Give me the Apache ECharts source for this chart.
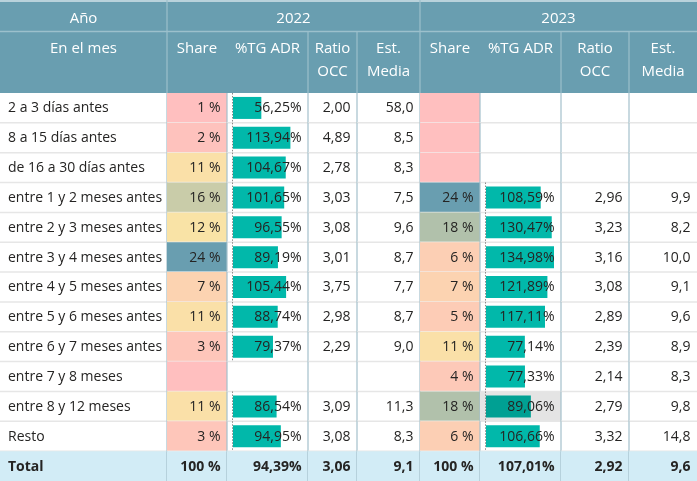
<!DOCTYPE html>
<html><head><meta charset="utf-8">
<script src="https://cdn.jsdelivr.net/npm/echarts@6/dist/echarts.min.js"></script>
<style>html,body{margin:0;padding:0;background:#fff;}#c{width:697px;height:481px;}</style>
</head><body><div id="c"></div>
<script>
// ---------- DATA ----------
const rowHeaderTop = 'Año';
const rowHeaderBottom = 'En el mes';
const years = ['2022', '2023'];
const measureHeaders = ['Share', '%TG ADR', 'Ratio\nOCC', 'Est.\nMedia'];
const categories = ['2 a 3 días antes', '8 a 15 días antes', 'de 16 a 30 días antes',
  'entre 1 y 2 meses antes', 'entre 2 y 3 meses antes', 'entre 3 y 4 meses antes',
  'entre 4 y 5 meses antes', 'entre 5 y 6 meses antes', 'entre 6 y 7 meses antes',
  'entre 7 y 8 meses', 'entre 8 y 12 meses', 'Resto'];
const totalLabel = 'Total';
const share2022 = [1, 2, 11, 16, 12, 24, 7, 11, 3, null, 11, 3];
const adr2022   = [56.25, 113.94, 104.67, 101.65, 96.55, 89.19, 105.44, 88.74, 79.37, null, 86.54, 94.95];
const occ2022   = [2.00, 4.89, 2.78, 3.03, 3.08, 3.01, 3.75, 2.98, 2.29, null, 3.09, 3.08];
const est2022   = [58.0, 8.5, 8.3, 7.5, 9.6, 8.7, 7.7, 8.7, 9.0, null, 11.3, 8.3];
const share2023 = [null, null, null, 24, 18, 6, 7, 5, 11, 4, 18, 6];
const adr2023   = [null, null, null, 108.59, 130.47, 134.98, 121.89, 117.11, 77.14, 77.33, 89.06, 106.66];
const occ2023   = [null, null, null, 2.96, 3.23, 3.16, 3.08, 2.89, 2.39, 2.14, 2.79, 3.32];
const est2023   = [null, null, null, 9.9, 8.2, 10.0, 9.1, 9.6, 8.9, 8.3, 9.8, 14.8];
const totals2022 = [100, 94.39, 3.06, 9.1];
const totals2023 = [100, 107.01, 2.92, 9.6];

// ---------- LAYOUT / STYLE ----------
const FONT = '"Segoe UI","Open Sans",sans-serif';
const W = 697, HEADER_H = 93, ROW1_H = 31.5;
const colEdges = [0, 167, 227, 308, 357, 420, 480, 561, 629, 697];
const colKinds = ['label', 'share', 'adr', 'occ', 'est', 'share', 'adr', 'occ', 'est'];
const headerColor = '#699EB0';
const headerLine = '#9CC0CC';
const bodyVLine = '#A3C0CB';
const rowLine = '#E6E6E6';
const totalBg = '#D2ECF6';
const textColor = '#252423';
const barColor = '#01B8AA';
const hoverCell = { row: 10, col: 6 };
const hoverBg = '#E4E4E4';
const hoverBar = '#00A093';

const rowNames = categories.concat([totalLabel]);
const nRows = rowNames.length;
const columns = [
  rowNames,
  share2022.concat([totals2022[0]]), adr2022.concat([totals2022[1]]),
  occ2022.concat([totals2022[2]]), est2022.concat([totals2022[3]]),
  share2023.concat([totals2023[0]]), adr2023.concat([totals2023[1]]),
  occ2023.concat([totals2023[2]]), est2023.concat([totals2023[3]])
];
const adrMax = Math.max(...adr2022.filter(v => v != null), ...adr2023.filter(v => v != null));

function comma(v, d) { return v.toFixed(d).replace('.', ','); }
function cellText(c, r) {
  const v = columns[c][r];
  if (v == null) return '';
  switch (colKinds[c]) {
    case 'label': return v;
    case 'share': return v + ' %';
    case 'adr': return comma(v, 2) + '%';
    case 'occ': return comma(v, 2);
    case 'est': return comma(v, 1);
  }
}
// diverging colour scale for Share (min pink, mid yellow, max blue)
const shareStops = [[1, [255, 191, 191]], [12, [249, 227, 166]], [24, [105, 158, 176]]];
function shareColor(v) {
  if (v == null) return 'rgb(255,191,191)';
  let a = shareStops[0], b = shareStops[1];
  if (v > shareStops[1][0]) { a = shareStops[1]; b = shareStops[2]; }
  let t = (v - a[0]) / (b[0] - a[0]); t = Math.max(0, Math.min(1, t));
  const c = a[1].map((x, i) => Math.round(x + (b[1][i] - x) * t));
  return 'rgb(' + c.join(',') + ')';
}

const cellData = [];
for (let r = 0; r < nRows; r++) for (let c = 0; c < colKinds.length; c++) cellData.push([colEdges[c], r, c]);

function renderBg(params, api) {
  const r = api.value(1), c = api.value(2);
  const p0 = api.coord([colEdges[c], r]);
  const p1 = api.coord([colEdges[c + 1], r]);
  const h = api.size([0, 1])[1];
  const top = p0[1] - h / 2;
  const isTotal = r === nRows - 1;
  const children = [];
  let fill = null;
  if (isTotal) fill = totalBg;
  else if (colKinds[c] === 'share') fill = shareColor(columns[c][r]);
  else if (r === hoverCell.row && c === hoverCell.col) fill = hoverBg;
  if (fill) children.push({ type: 'rect', shape: { x: p0[0], y: top, width: p1[0] - p0[0], height: h }, style: { fill } });
  if (!isTotal) children.push({ type: 'line', shape: { x1: p0[0], y1: top + h, x2: p1[0], y2: top + h }, style: { stroke: colKinds[c] === 'share' ? 'rgba(240,240,240,0.8)' : rowLine, lineWidth: 1.5 } });
  if (c < colKinds.length - 1) children.push({ type: 'line', shape: { x1: p1[0], y1: top, x2: p1[0], y2: top + h }, style: { stroke: bodyVLine, lineWidth: 1.2 } });
  if (colKinds[c] === 'adr' && !isTotal && columns[c][r] != null) {
    children.push({ type: 'line', shape: { x1: p0[0] + 5.5, y1: top, x2: p0[0] + 5.5, y2: top + h }, style: { stroke: '#8A8A8A', lineWidth: 1, lineDash: [1.5, 1.5] } });
  }
  return { type: 'group', children };
}
function renderText(params, api) {
  const r = api.value(1), c = api.value(2);
  const txt = cellText(c, r);
  if (!txt) return { type: 'group', children: [] };
  const p0 = api.coord([colEdges[c], r]);
  const p1 = api.coord([colEdges[c + 1], r]);
  const left = colKinds[c] === 'label';
  const bold = r === nRows - 1;
  return { type: 'text', style: {
    x: left ? p0[0] + 8 : p1[0] - 6.5, y: p0[1] + 0.5, text: txt,
    align: left ? 'left' : 'right', verticalAlign: 'middle',
    fill: textColor, font: (bold ? 'bold ' : '') + '14px ' + FONT } };
}

function barData(arr, col) {
  return arr.map((v, r) => (r === hoverCell.row && col === hoverCell.col)
    ? { value: v, itemStyle: { color: hoverBar } } : v).concat([null]);
}

// header graphics
const graphic = [];
graphic.push({ type: 'rect', shape: { x: 0, y: 0, width: W, height: HEADER_H }, style: { fill: headerColor }, z: 0 });
graphic.push({ type: 'line', shape: { x1: 0, y1: 1, x2: W, y2: 1 }, style: { stroke: '#B9D2DB', lineWidth: 2 } });
graphic.push({ type: 'line', shape: { x1: 0, y1: ROW1_H, x2: W, y2: ROW1_H }, style: { stroke: headerLine, lineWidth: 1.5 } });
[1, 5].forEach(ci => graphic.push({ type: 'line', shape: { x1: colEdges[ci], y1: 0, x2: colEdges[ci], y2: HEADER_H }, style: { stroke: headerLine, lineWidth: 1.2 } }));
[3, 4, 7, 8].forEach(ci => graphic.push({ type: 'line', shape: { x1: colEdges[ci], y1: ROW1_H, x2: colEdges[ci], y2: HEADER_H }, style: { stroke: headerLine, lineWidth: 1.2 } }));
function hText(x, y, t) {
  graphic.push({ type: 'text', style: { x, y, text: t, align: 'center', verticalAlign: 'top', fill: '#FFFFFF', font: '15px ' + FONT, lineHeight: 23 } });
}
hText((colEdges[0] + colEdges[1]) / 2, 7, rowHeaderTop);
hText((colEdges[1] + colEdges[5]) / 2, 7, years[0]);
hText((colEdges[5] + colEdges[9]) / 2, 7, years[1]);
hText((colEdges[0] + colEdges[1]) / 2, 37, rowHeaderBottom);
for (let y = 0; y < 2; y++) for (let m = 0; m < 4; m++) {
  const ci = 1 + y * 4 + m;
  hText((colEdges[ci] + colEdges[ci + 1]) / 2, 37, measureHeaders[m]);
}

function barGrid(ci) {
  return { left: colEdges[ci] + 6, width: colEdges[ci + 1] - colEdges[ci] - 13, top: HEADER_H, bottom: 0 };
}
const hiddenY = (gi) => ({ type: 'category', data: rowNames, inverse: true, gridIndex: gi, show: false });
const option = {
  animation: false,
  grid: [
    { left: 0, right: 0, top: HEADER_H, bottom: 0 },
    barGrid(2),
    barGrid(6)
  ],
  xAxis: [
    { type: 'value', min: 0, max: W, gridIndex: 0, show: false },
    { type: 'value', min: 0, max: adrMax, gridIndex: 1, show: false },
    { type: 'value', min: 0, max: adrMax, gridIndex: 2, show: false }
  ],
  yAxis: [hiddenY(0), hiddenY(1), hiddenY(2)],
  graphic: graphic,
  series: [
    { type: 'custom', xAxisIndex: 0, yAxisIndex: 0, data: cellData, renderItem: renderBg, z: 1, silent: true },
    { type: 'bar', xAxisIndex: 1, yAxisIndex: 1, data: barData(adr2022, 2), barWidth: 22, itemStyle: { color: barColor }, z: 2, silent: true },
    { type: 'bar', xAxisIndex: 2, yAxisIndex: 2, data: barData(adr2023, 6), barWidth: 22, itemStyle: { color: barColor }, z: 2, silent: true },
    { type: 'custom', xAxisIndex: 0, yAxisIndex: 0, data: cellData, renderItem: renderText, z: 3, silent: true }
  ]
};
const chart = echarts.init(document.getElementById('c'));
chart.setOption(option);
</script>
</body></html>
